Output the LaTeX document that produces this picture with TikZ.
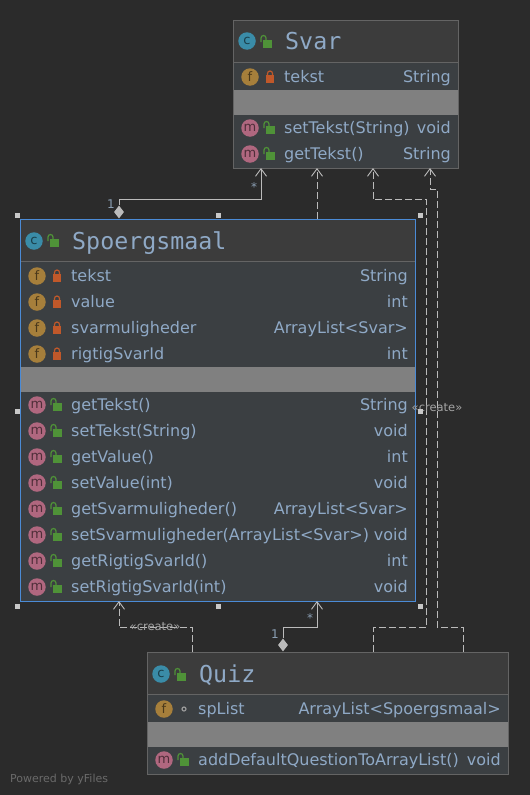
\documentclass[tikz,border=0pt]{standalone}
\usepackage{fontspec}
\setmainfont{DejaVu Sans}
\newfontfamily\titlefont{DejaVu Sans Mono}
\usetikzlibrary{arrows.meta,shapes.geometric}
\definecolor{bgc}{HTML}{2B2B2B}
\definecolor{headc}{HTML}{3C3C3C}
\definecolor{rowc}{HTML}{3B3F42}
\definecolor{bandc}{HTML}{808080}
\definecolor{edgec}{HTML}{646464}
\definecolor{selc}{HTML}{4B8BD6}
\definecolor{txtc}{HTML}{8FA9C6}
\definecolor{linec}{HTML}{BBBBBB}
\definecolor{cic}{HTML}{3A8CA8}
\definecolor{fic}{HTML}{A67F3B}
\definecolor{mic}{HTML}{B0677F}
\definecolor{locki}{HTML}{C0582A}
\definecolor{openi}{HTML}{4F9238}
\definecolor{handc}{HTML}{C8C8C8}
\tikzset{
  umlbox/.style={draw=edgec,line width=1pt,rectangle,inner sep=0pt,minimum width=#1},
  selbox/.style={draw=selc,line width=1pt,rectangle,inner sep=0pt,minimum width=#1},
  rowtext/.style={text=txtc,font=\fontsize{16}{18}\selectfont,inner sep=0pt,anchor=base west},
  typetext/.style={text=txtc,font=\fontsize{16}{18}\selectfont,inner sep=0pt,anchor=base east},
  titletext/.style={text=txtc,font=\titlefont\fontsize{23.3}{26}\selectfont,inner sep=0pt,anchor=base west},
  iconball/.style={circle,inner sep=0pt,minimum size=17.5pt,text=#1!45!black,font=\fontsize{13}{13}\selectfont},
  smalllabel/.style={text=txtc!75!gray,font=\fontsize{12}{12}\selectfont,inner sep=0pt},
  edgelabel/.style={text=linec!85!bgc,font=\fontsize{11.5}{12}\selectfont,inner sep=0pt},
  handle/.style={fill=handc,inner sep=0pt,minimum size=5pt,rectangle},
  assoc/.style={draw=linec,line width=0.9pt,-{Straight Barb[length=7.5pt,width=11pt,line width=0.9pt]}},
  depend/.style={assoc,dash pattern=on 7pt off 3pt},
  compdia/.style={diamond,fill=linec,inner sep=0pt,minimum width=10pt,minimum height=13pt},
}
% \icon{x}{y}{colour}{letter}
\newcommand{\icon}[4]{\node[iconball=#3,fill=#3] at (#1,#2) {#4};}
\newcommand{\shut}[2]{%
  \fill[locki] (#1-4,#2-2) rectangle (#1+4,#2+5.5);
  \draw[locki,line width=1.2pt] (#1-2.5,#2-2) -- (#1-2.5,#2-3.5) arc[start angle=180,end angle=360,radius=2.5] -- (#1+2.5,#2-2);}
\newcommand{\unshut}[2]{%
  \fill[openi] (#1-3,#2-2) rectangle (#1+5.5,#2+5.5);
  \draw[openi,line width=1.2pt] (#1-5,#2) -- (#1-5,#2-4) arc[start angle=180,end angle=360,radius=2.5] -- (#1,#2-2);}
\newcommand{\pkgdot}[2]{\draw[gray!80,line width=1.2pt] (#1,#2) circle[radius=2pt];}
\begin{document}
\begin{tikzpicture}[x=1pt,y=-1pt]
\useasboundingbox (0,0) rectangle (530,795);
\fill[bgc] (0,0) rectangle (530,795);

% ---------- Svar
\node[umlbox=225pt,minimum height=148pt,fill=rowc] (svar) at (345.5,94) {};
\fill[headc] (233.5,20.5) rectangle (457.5,62);
\fill[bandc] (233.5,90) rectangle (457.5,115);
\draw[edgec,line width=1pt] (233,62) -- (458,62);
\draw[edgec,line width=1pt] (233,20) rectangle (458,168);
\icon{247}{41}{cic}{c}\unshut{266}{42}
\node[titletext] (svarT) at (285,49.5) {Svar};
\icon{250}{77}{fic}{f}\shut{270}{77}
\node[rowtext] (svarF) at (284,82) {tekst};
\node[typetext] (svarFt) at (451,82) {String};
\icon{250}{128}{mic}{m}\unshut{269}{128}
\node[rowtext] (svarM1) at (284,133) {setTekst(String)};
\node[typetext] (svarM1t) at (451,133) {void};
\icon{250}{154}{mic}{m}\unshut{269}{154}
\node[rowtext] (svarM2) at (284,159) {getTekst()};
\node[typetext] (svarM2t) at (451,159) {String};

% ---------- Spoergsmaal
\node[selbox=395pt,minimum height=382pt,fill=rowc] (spoerg) at (218,410) {};
\fill[headc] (21,220) rectangle (415,261);
\fill[bandc] (21,367) rectangle (415,392);
\draw[edgec,line width=1pt] (21,261.5) -- (415,261.5);
\icon{34}{241}{cic}{c}\unshut{53}{241}
\node[titletext] (spT) at (72,249) {Spoergsmaal};
\foreach \yy/\nm/\ty in {276/tekst/String,302/value/int,328/svarmuligheder/ArrayList<Svar>,354/rigtigSvarId/int}{
  \icon{37}{\yy}{fic}{f}\shut{57}{\yy}
  \node[rowtext] at (71,\yy+5) {\nm};
  \node[typetext] at (408,\yy+5) {\ty};
}
\foreach \yy/\nm/\ty in {405/getTekst()/String,431/setTekst(String)/void,457/getValue()/int,483/setValue(int)/void,509/getSvarmuligheder()/ArrayList<Svar>,535/setSvarmuligheder(ArrayList<Svar>)/void,561/getRigtigSvarId()/int,587/setRigtigSvarId(int)/void}{
  \icon{37}{\yy}{mic}{m}\unshut{56}{\yy}
  \node[rowtext] at (71,\yy+5) {\nm};
  \node[typetext] at (408,\yy+5) {\ty};
}

% ---------- Quiz
\node[umlbox=361pt,minimum height=121.5pt,fill=rowc] (quiz) at (328,713.25) {};
\fill[headc] (148,653) rectangle (508,694);
\fill[bandc] (148,722) rectangle (508,747);
\draw[edgec,line width=1pt] (148,694.5) -- (508,694.5);
\draw[edgec,line width=1pt] (147.5,652.5) rectangle (508.5,774);
\icon{161}{674}{cic}{c}\unshut{180}{675}
\node[titletext] (qzT) at (199,682.5) {Quiz};
\icon{164}{709}{fic}{f}\pkgdot{184}{709}
\node[rowtext] (qzF) at (198,714) {spList};
\node[typetext] (qzFt) at (501,714) {ArrayList<Spoergsmaal>};
\icon{164}{760}{mic}{m}\unshut{183}{760}
\node[rowtext] (qzM) at (198,765) {addDefaultQuestionToArrayList()};
\node[typetext] (qzMt) at (501,765) {void};

% ---------- anchors of the connectors
\coordinate (svarA) at (261,168);
\coordinate (svarB) at (317,168);
\coordinate (svarC) at (373,168);
\coordinate (svarD) at (430,168);
\coordinate (spTop) at (317,219);
\coordinate (spL) at (119,601);
\coordinate (spR) at (317,601);
\coordinate (qzA) at (192.5,652);
\coordinate (qzB) at (373.5,652);
\coordinate (qzC) at (463,652);
\node[compdia] (d1) at (119,212) {};
\node[compdia] (d2) at (283,645) {};

% ---------- connectors
\draw[assoc] (d1.north) -- (d1.north |- 0,199.5) -| (svarA);
\draw[depend] (spTop) -- (svarB);
\draw[depend] (qzB) -- (qzB |- 0,627.5) -- (426.5,627.5) -- (426.5,199.5) -| (svarC);
\draw[depend] (qzC) -- (qzC |- 0,627.5) -- (437.5,627.5) -- (437.5,189) -| (svarD);
\draw[depend] (qzA) -- (qzA |- 0,627.5) -| (spL);
\draw[assoc] (d2.north) -- (d2.north |- 0,627.5) -| (spR);

% ---------- connector labels
\node[smalllabel] (l1) at (254,187) {*};
\node[smalllabel] (l2) at (111,204) {1};
\node[smalllabel] (l3) at (310,618) {*};
\node[smalllabel] (l4) at (275,634) {1};
\node[edgelabel] (l5) at (155,627) {«create»};
\node[edgelabel] (l6) at (437,408) {«create»};

% ---------- selection handles
\foreach \hx/\hy/\hn in {17/215/h1,218/215/h2,420/215/h3,17/411/h4,420/411/h5,17/606/h6,218/606/h7,420/606/h8}{
  \node[handle] (\hn) at (\hx,\hy) {};
}

\node[text=gray!75!bgc,font=\fontsize{11}{12}\selectfont,inner sep=0pt,anchor=base west] (yf) at (10,782) {Powered by yFiles};
\end{tikzpicture}
\end{document}
